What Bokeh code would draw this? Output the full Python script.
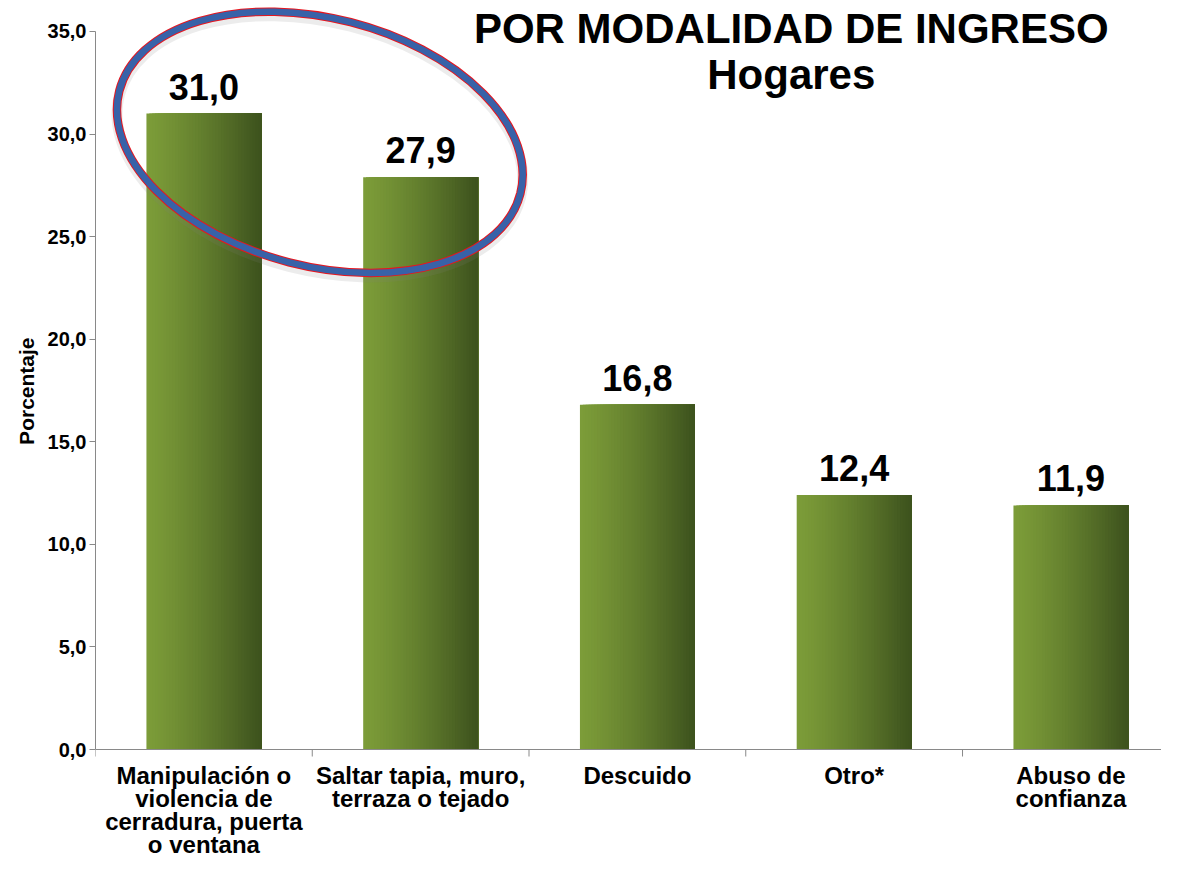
import numpy as np
from bokeh.plotting import figure
from bokeh.models import Range1d, FixedTicker, ColumnDataSource, LabelSet, Span, Title
from bokeh.embed import file_html
from bokeh.resources import INLINE
from bokeh.core.properties import value

# ---------------- data ----------------
categories = [
    "Manipulación o\nviolencia de\ncerradura, puerta\no ventana",
    "Saltar tapia, muro,\nterraza o tejado",
    "Descuido",
    "Otro*",
    "Abuso de\nconfianza",
]
values = [31.0, 27.9, 16.8, 12.4, 11.9]
value_labels = ["31,0", "27,9", "16,8", "12,4", "11,9"]
y_ticks = [0, 5, 10, 15, 20, 25, 30, 35]
y_tick_labels = ["0,0", "5,0", "10,0", "15,0", "20,0", "25,0", "30,0", "35,0"]
title_lines = ["POR MODALIDAD DE INGRESO", "Hogares"]
axis_title = "Porcentaje"

# ---------------- style ----------------
FONT = "Liberation Sans"
BAR_W = 0.53
N_STRIPS = 40
C_LEFT = np.array([124, 156, 57])
C_RIGHT = np.array([62, 83, 30])
AXIS_COLOR = "#898989"
CAT_FIRST_BASELINE = 34   # px below axis
CAT_LINE_STEP = 23        # px

xs = list(range(len(categories)))
boundaries = [x - 0.5 for x in xs]

p = figure(width=1161, height=860,
           x_range=Range1d(-0.5, 4.418), y_range=Range1d(-5.41, 36.51),
           output_backend="svg", toolbar_location=None,
           min_border_left=95, min_border_right=0,
           min_border_top=0, min_border_bottom=0)
p.grid.visible = False
p.outline_line_color = None
p.background_fill_color = "white"
p.border_fill_color = "white"
p.xaxis.visible = False

# ---------------- gradient bars (stacked strips) ----------------
lefts, rights, tops, colors = [], [], [], []
for x, v in zip(xs, values):
    for i in range(N_STRIPS):
        t = i / (N_STRIPS - 1)
        tt = t ** 1.25
        c = (C_LEFT * (1 - tt) + C_RIGHT * tt).astype(int)
        lefts.append(x - BAR_W / 2 + i * BAR_W / N_STRIPS)
        rights.append(x + BAR_W / 2)
        tops.append(v)
        colors.append("#%02x%02x%02x" % tuple(c))
p.quad(left=lefts, right=rights, bottom=0, top=tops, fill_color=colors, line_color=None)

# ---------------- category axis (line at 0, ticks at boundaries) ----------------
p.add_layout(Span(location=0, dimension="width", line_color=AXIS_COLOR, line_width=1))
p.ray(x=boundaries, y=[0] * len(boundaries), length=7, length_units="screen",
      angle=-np.pi / 2, line_color=AXIS_COLOR, line_width=1)

split_lines = [c.split("\n") for c in categories]
max_lines = max(len(s) for s in split_lines)
for j in range(max_lines):
    lx = [x for x, s in zip(xs, split_lines) if len(s) > j]
    lt = [s[j] for s in split_lines if len(s) > j]
    src_j = ColumnDataSource(dict(x=lx, y=[0] * len(lx), t=lt))
    p.add_layout(LabelSet(x="x", y="y", text="t", source=src_j,
                          y_offset=-(CAT_FIRST_BASELINE + j * CAT_LINE_STEP),
                          text_align="center", text_baseline="alphabetic",
                          text_font=value(FONT), text_font_size=value("24px"),
                          text_font_style=value("bold"), text_color="black"))

# ---------------- value labels ----------------
src = ColumnDataSource(dict(x=xs, y=values, t=value_labels))
p.add_layout(LabelSet(x="x", y="y", text="t", source=src, y_offset=14,
                      text_align="center", text_baseline="alphabetic",
                      text_font=value(FONT), text_font_size=value("36px"),
                      text_font_style=value("bold"), text_color="black"))

# ---------------- highlight ellipse ----------------
HL_X, HL_Y = 0.535, 29.6
HL_W, HL_H, HL_ANGLE = 414, 248, -0.251
p.ellipse(x=[HL_X], y=[HL_Y - 0.2], width=HL_W, height=HL_H,
          width_units="screen", height_units="screen", angle=HL_ANGLE,
          fill_color=None, line_color="#808080", line_alpha=0.15, line_width=11)
p.ellipse(x=[HL_X], y=[HL_Y], width=HL_W, height=HL_H,
          width_units="screen", height_units="screen", angle=HL_ANGLE,
          fill_color=None, line_color="#e8161e", line_width=8.5)
p.ellipse(x=[HL_X], y=[HL_Y], width=HL_W, height=HL_H,
          width_units="screen", height_units="screen", angle=HL_ANGLE,
          fill_color=None, line_color="#3862a8", line_width=6.5)

# ---------------- title ----------------
TITLE_X = 2.71
title_src = ColumnDataSource(dict(x=[TITLE_X] * 2, y=[34.46, 32.2], t=title_lines))
p.add_layout(LabelSet(x="x", y="y", text="t", source=title_src,
                      text_align="center", text_baseline="alphabetic",
                      text_font=value(FONT), text_font_size=value("42px"),
                      text_font_style=value("bold"), text_color="black"))

# ---------------- value axis ----------------
ya = p.yaxis[0]
ya.bounds = (0, 35)
ya.ticker = FixedTicker(ticks=y_ticks, minor_ticks=[])
ya.major_label_overrides = {t: l for t, l in zip(y_ticks, y_tick_labels)}
ya.major_tick_out = 6
ya.major_tick_in = 0
ya.major_tick_line_color = AXIS_COLOR
ya.axis_line_color = AXIS_COLOR
ya.major_label_standoff = 3
ya.major_label_text_font = FONT
ya.major_label_text_font_size = "20px"
ya.major_label_text_font_style = "bold"
ya.major_label_text_color = "black"

# axis title, placed so that it is centred on the 0–35 span of the value axis
p.add_layout(Title(text=axis_title, align="right", offset=337, standoff=14,
                   text_font=FONT, text_font_size="21px", text_font_style="bold",
                   text_color="black"), "left")

open("out.html", "w").write(file_html(p, INLINE))
